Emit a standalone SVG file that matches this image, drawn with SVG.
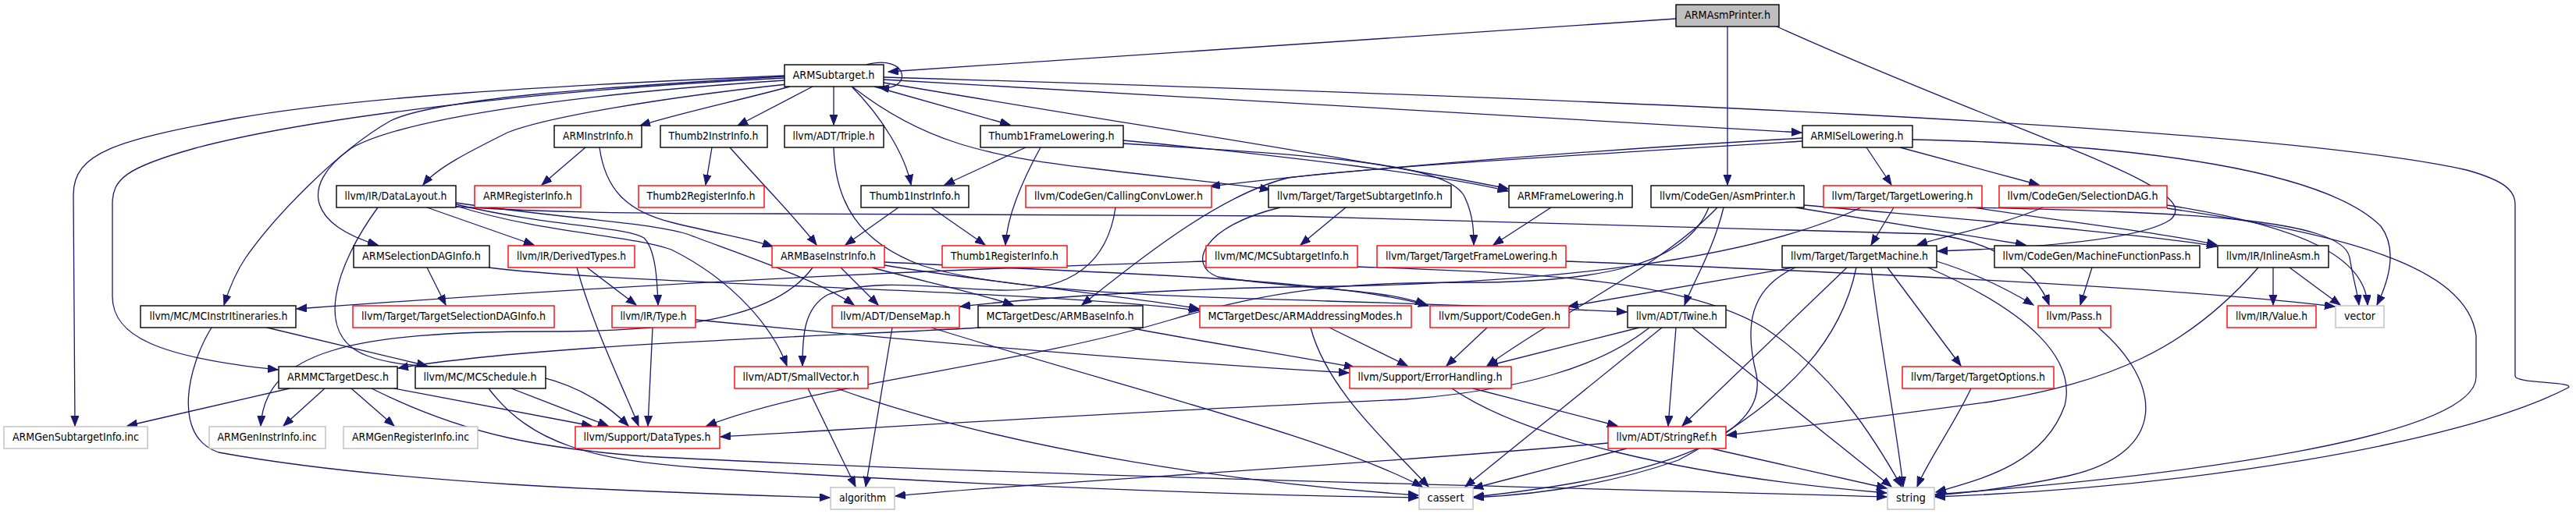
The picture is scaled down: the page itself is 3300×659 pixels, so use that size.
<svg xmlns="http://www.w3.org/2000/svg" width="3300" height="659" viewBox="0 0 3300 659">
<defs>
<style>
.nb{fill:#fff;stroke:#000;stroke-width:1.4}
.nr{fill:#fff;stroke:#ff0000;stroke-width:1.4}
.ng{fill:#fff;stroke:#bfbfbf;stroke-width:1.4}
.root{fill:#bfbfbf;stroke:#000;stroke-width:1.4}
text{font-family:"DejaVu Sans","Liberation Sans",sans-serif;font-size:14px;fill:#000;text-anchor:middle}
#edges path{fill:none;stroke:#191970;stroke-width:1.3;marker-end:url(#ah)}
</style>
<marker id="ah" markerWidth="14" markerHeight="11" refX="13" refY="5" orient="auto" markerUnits="userSpaceOnUse"><path d="M0,0 L13,5 L0,10 z" fill="#191970" stroke="#191970" stroke-width="1"/></marker>
</defs>
<rect width="3300" height="659" fill="#fff"/>
<g id="edges">
<path d="M2147,24 L1138,92"/>
<path d="M2213,34 L2213,237"/>
<path d="M2276,34 C2600,180 2830,240 2780,282 C2740,308 2600,318 2482,322"/>
<path d="M1110,83 C1165,68 1170,118 1126,112"/>
<path d="M1012,111 C950,128 870,145 820,161"/>
<path d="M1041,111 L945,161"/>
<path d="M1068,111 L1068,160"/>
<path d="M1091,111 C1130,150 1160,200 1167,237"/>
<path d="M1120,111 L1294,160"/>
<path d="M1093,112 C1180,180 1260,200 1400,216 C1500,228 1580,236 1627,243"/>
<path d="M1132,102 L2308,170"/>
<path d="M1132,99 C2000,125 2900,160 3160,218 C3210,232 3222,245 3222,262 L3222,482 C3222,492 3300,489 3290,497 C3150,570 2800,625 2479,637"/>
<path d="M1132,106 C1450,160 1750,205 1932,242"/>
<path d="M1005,97 C700,110 450,125 300,152 C150,180 94,195 94,250 L96,546"/>
<path d="M1005,100 C700,115 400,150 250,190 C160,215 144,230 144,262 L144,380 C144,430 200,458 356,474"/>
<path d="M1005,98 C800,110 560,125 500,155 C430,195 350,280 315,330 C300,352 292,375 287,391"/>
<path d="M1005,103 C750,120 520,150 450,190 C380,240 400,290 484,314"/>
<path d="M1008,108 C850,125 700,150 650,170 C600,195 560,215 542,237"/>
<path d="M750,189 L694,237"/>
<path d="M768,189 C775,240 800,270 860,285 C920,300 960,306 990,316"/>
<path d="M912,189 L904,237"/>
<path d="M935,189 C980,240 1020,280 1046,314"/>
<path d="M1068,189 C1070,260 1100,310 1180,340 C1300,380 1600,382 1700,386 C1900,392 2000,396 2084,400"/>
<path d="M1314,189 L1210,237"/>
<path d="M1333,189 C1305,240 1290,280 1288,314"/>
<path d="M1439,180 C1650,200 1850,225 1932,245"/>
<path d="M1439,184 C1700,200 1850,210 1875,250 C1888,275 1888,300 1888,314"/>
<path d="M2391,189 L2423,237"/>
<path d="M2434,189 L2612,237"/>
<path d="M2309,177 C2000,195 1700,220 1550,239"/>
<path d="M2309,181 C2000,200 1750,215 1650,228 C1560,250 1450,340 1386,391"/>
<path d="M2450,179 C2750,185 2980,220 3050,290 C3072,320 3060,360 3045,391"/>
<path d="M547,266 L684,314"/>
<path d="M484,266 C430,340 400,430 470,456 C560,490 700,440 805,546"/>
<path d="M584,262 C700,290 800,290 825,305 C840,320 842,360 843,391"/>
<path d="M584,260 C720,280 830,285 880,300 C960,330 1050,360 1094,391"/>
<path d="M584,264 C700,300 800,300 860,320 C940,360 990,420 1008,469"/>
<path d="M584,265 C700,272 800,274 1000,274 L1650,277 L2475,300 C2560,310 2610,350 2625,391"/>
<path d="M752,343 L815,391"/>
<path d="M739,343 C760,420 800,500 818,546"/>
<path d="M547,343 L571,391"/>
<path d="M626,343 C800,365 1300,370 1536,398"/>
<path d="M1041,343 C1000,400 900,425 700,425 C450,425 340,450 334,546"/>
<path d="M1077,343 L1125,391"/>
<path d="M1117,343 C1180,360 1250,375 1298,391"/>
<path d="M1133,340 C1250,360 1450,380 1536,396"/>
<path d="M1133,336 C1400,350 1700,355 1830,392"/>
<path d="M1151,266 L1083,314"/>
<path d="M1193,266 L1262,314"/>
<path d="M1429,266 C1420,330 1380,375 1280,372 C1200,370 1120,355 1060,378 C1030,395 1028,430 1028,469"/>
<path d="M1724,266 L1666,314"/>
<path d="M1640,266 C1540,290 1520,340 1560,355 C1650,370 1780,370 1826,391"/>
<path d="M1987,266 L1913,314"/>
<path d="M2208,266 C2195,320 2170,360 2158,391"/>
<path d="M2200,266 C2130,340 2000,400 1905,469"/>
<path d="M2189,266 C2160,340 2050,360 1900,362 C1750,362 1650,365 1500,410 C1300,470 1050,490 905,546"/>
<path d="M2300,266 L2595,314"/>
<path d="M2311,263 C2500,280 2750,300 2840,316"/>
<path d="M2426,266 L2397,314"/>
<path d="M2384,266 C2250,330 2000,365 1650,368 C1450,372 1300,385 1230,393"/>
<path d="M2528,266 C2650,285 2780,300 2840,314"/>
<path d="M2520,266 C2800,272 3000,280 3010,330 C3015,360 3020,375 3022,391"/>
<path d="M2617,266 C2560,290 2500,300 2456,314"/>
<path d="M2776,263 C2950,290 3030,330 3033,391"/>
<path d="M2776,267 C3000,300 3160,340 3172,430 L3172,483 C3172,560 2800,610 2479,634"/>
<path d="M2297,343 L2009,393"/>
<path d="M2366,343 L2155,546"/>
<path d="M2300,343 C2240,370 2235,420 2250,480 C2270,580 2050,620 1888,637"/>
<path d="M2378,343 C2360,430 2300,510 2150,590 C2050,625 1950,635 1888,638"/>
<path d="M2397,343 C2410,450 2430,550 2438,624"/>
<path d="M2418,343 L2512,469"/>
<path d="M2481,335 C2530,350 2570,370 2605,391"/>
<path d="M2470,343 C2600,400 2660,460 2645,520 C2620,590 2550,612 2480,631"/>
<path d="M2680,343 L2665,391"/>
<path d="M2912,343 L2912,391"/>
<path d="M2933,343 L2998,391"/>
<path d="M2893,343 C2800,450 2700,490 2550,515 C2400,535 2300,548 2212,558"/>
<path d="M2006,335 C2400,350 2800,370 2991,393"/>
<path d="M1545,335 C1200,345 800,365 380,396"/>
<path d="M1739,342 C1950,350 2150,355 2260,420 C2350,480 2400,560 2436,624"/>
<path d="M2100,420 L1906,469"/>
<path d="M2113,420 C2050,470 1950,500 1800,512 C1400,530 1100,550 923,560"/>
<path d="M2129,420 L1877,624"/>
<path d="M2147,420 L2137,546"/>
<path d="M2168,420 L2423,624"/>
<path d="M1887,498 L2072,546"/>
<path d="M1860,498 C1950,560 2150,610 2417,632"/>
<path d="M2060,568 C1700,600 1300,620 1147,636"/>
<path d="M2084,575 L1887,626"/>
<path d="M2192,575 L2417,626"/>
<path d="M2525,498 C2500,550 2470,590 2456,624"/>
<path d="M2688,420 C2770,490 2780,580 2650,610 C2580,625 2520,632 2479,635"/>
<path d="M1905,420 L1853,469"/>
<path d="M1703,420 L1803,469"/>
<path d="M1679,420 C1700,500 1780,570 1830,624"/>
<path d="M1256,420 C1100,430 700,440 510,472"/>
<path d="M1446,420 C1550,440 1650,455 1735,471"/>
<path d="M836,420 L830,546"/>
<path d="M891,410 C1200,440 1500,465 1728,478"/>
<path d="M1143,420 L1109,624"/>
<path d="M1193,420 C1450,500 1700,560 1822,624"/>
<path d="M1035,498 L1096,624"/>
<path d="M1072,498 C1300,580 1600,620 1817,635"/>
<path d="M342,420 L547,469"/>
<path d="M271,420 C240,470 220,560 280,580 C500,620 800,630 1063,638"/>
<path d="M655,498 L779,546"/>
<path d="M626,498 C680,570 760,590 900,600 C1300,625 1600,635 1817,638"/>
<path d="M371,498 L163,546"/>
<path d="M416,498 L363,546"/>
<path d="M450,498 L505,546"/>
<path d="M505,498 L758,546"/>
<path d="M476,498 C600,560 700,575 825,585 C1300,610 2000,625 2417,637"/>
</g>
<g id="n_ARMAsmPrinter"><rect class="root" x="2147" y="6" width="132" height="28"/><text x="2213" y="24" textLength="110" lengthAdjust="spacingAndGlyphs">ARMAsmPrinter.h</text></g>
<g id="n_ARMSubtarget"><rect class="nb" x="1005" y="83" width="127" height="28"/><text x="1068" y="101" textLength="105" lengthAdjust="spacingAndGlyphs">ARMSubtarget.h</text></g>
<g id="n_ARMInstrInfo"><rect class="nb" x="710" y="161" width="112" height="28"/><text x="766" y="179" textLength="90" lengthAdjust="spacingAndGlyphs">ARMInstrInfo.h</text></g>
<g id="n_Thumb2InstrInfo"><rect class="nb" x="846" y="161" width="137" height="28"/><text x="914" y="179" textLength="115" lengthAdjust="spacingAndGlyphs">Thumb2InstrInfo.h</text></g>
<g id="n_Triple"><rect class="nb" x="1005" y="161" width="127" height="28"/><text x="1068" y="179" textLength="105" lengthAdjust="spacingAndGlyphs">llvm/ADT/Triple.h</text></g>
<g id="n_Thumb1FrameLowering"><rect class="nb" x="1256" y="161" width="183" height="28"/><text x="1347" y="179" textLength="161" lengthAdjust="spacingAndGlyphs">Thumb1FrameLowering.h</text></g>
<g id="n_ARMISelLowering"><rect class="nb" x="2309" y="161" width="141" height="28"/><text x="2379" y="179" textLength="119" lengthAdjust="spacingAndGlyphs">ARMISelLowering.h</text></g>
<g id="n_DataLayout"><rect class="nb" x="431" y="238" width="153" height="28"/><text x="507" y="256" textLength="131" lengthAdjust="spacingAndGlyphs">llvm/IR/DataLayout.h</text></g>
<g id="n_ARMRegisterInfo"><rect class="nr" x="608" y="238" width="136" height="28"/><text x="676" y="256" textLength="114" lengthAdjust="spacingAndGlyphs">ARMRegisterInfo.h</text></g>
<g id="n_Thumb2RegisterInfo"><rect class="nr" x="818" y="238" width="161" height="28"/><text x="898" y="256" textLength="139" lengthAdjust="spacingAndGlyphs">Thumb2RegisterInfo.h</text></g>
<g id="n_Thumb1InstrInfo"><rect class="nb" x="1103" y="238" width="138" height="28"/><text x="1172" y="256" textLength="116" lengthAdjust="spacingAndGlyphs">Thumb1InstrInfo.h</text></g>
<g id="n_CallingConvLower"><rect class="nr" x="1314" y="238" width="238" height="28"/><text x="1433" y="256" textLength="216" lengthAdjust="spacingAndGlyphs">llvm/CodeGen/CallingConvLower.h</text></g>
<g id="n_TargetSubtargetInfo"><rect class="nb" x="1625" y="238" width="234" height="28"/><text x="1742" y="256" textLength="212" lengthAdjust="spacingAndGlyphs">llvm/Target/TargetSubtargetInfo.h</text></g>
<g id="n_ARMFrameLowering"><rect class="nb" x="1933" y="238" width="158" height="28"/><text x="2012" y="256" textLength="136" lengthAdjust="spacingAndGlyphs">ARMFrameLowering.h</text></g>
<g id="n_AsmPrinter"><rect class="nb" x="2115" y="238" width="196" height="28"/><text x="2213" y="256" textLength="174" lengthAdjust="spacingAndGlyphs">llvm/CodeGen/AsmPrinter.h</text></g>
<g id="n_TargetLowering"><rect class="nr" x="2336" y="238" width="203" height="28"/><text x="2437" y="256" textLength="181" lengthAdjust="spacingAndGlyphs">llvm/Target/TargetLowering.h</text></g>
<g id="n_SelectionDAG"><rect class="nr" x="2561" y="238" width="215" height="28"/><text x="2668" y="256" textLength="193" lengthAdjust="spacingAndGlyphs">llvm/CodeGen/SelectionDAG.h</text></g>
<g id="n_ARMSelectionDAGInfo"><rect class="nb" x="453" y="315" width="174" height="28"/><text x="540" y="333" textLength="152" lengthAdjust="spacingAndGlyphs">ARMSelectionDAGInfo.h</text></g>
<g id="n_DerivedTypes"><rect class="nr" x="651" y="315" width="162" height="28"/><text x="732" y="333" textLength="140" lengthAdjust="spacingAndGlyphs">llvm/IR/DerivedTypes.h</text></g>
<g id="n_ARMBaseInstrInfo"><rect class="nr" x="989" y="315" width="144" height="28"/><text x="1061" y="333" textLength="122" lengthAdjust="spacingAndGlyphs">ARMBaseInstrInfo.h</text></g>
<g id="n_Thumb1RegisterInfo"><rect class="nr" x="1207" y="315" width="160" height="28"/><text x="1287" y="333" textLength="138" lengthAdjust="spacingAndGlyphs">Thumb1RegisterInfo.h</text></g>
<g id="n_MCSubtargetInfo"><rect class="nr" x="1545" y="315" width="194" height="28"/><text x="1642" y="333" textLength="172" lengthAdjust="spacingAndGlyphs">llvm/MC/MCSubtargetInfo.h</text></g>
<g id="n_TargetFrameLowering"><rect class="nr" x="1764" y="315" width="242" height="28"/><text x="1885" y="333" textLength="220" lengthAdjust="spacingAndGlyphs">llvm/Target/TargetFrameLowering.h</text></g>
<g id="n_TargetMachine"><rect class="nb" x="2283" y="315" width="198" height="28"/><text x="2382" y="333" textLength="176" lengthAdjust="spacingAndGlyphs">llvm/Target/TargetMachine.h</text></g>
<g id="n_MachineFunctionPass"><rect class="nb" x="2555" y="315" width="263" height="28"/><text x="2686" y="333" textLength="241" lengthAdjust="spacingAndGlyphs">llvm/CodeGen/MachineFunctionPass.h</text></g>
<g id="n_InlineAsm"><rect class="nb" x="2841" y="315" width="142" height="28"/><text x="2912" y="333" textLength="120" lengthAdjust="spacingAndGlyphs">llvm/IR/InlineAsm.h</text></g>
<g id="n_MCInstrItineraries"><rect class="nb" x="180" y="392" width="199" height="28"/><text x="280" y="410" textLength="177" lengthAdjust="spacingAndGlyphs">llvm/MC/MCInstrItineraries.h</text></g>
<g id="n_TargetSelectionDAGInfo"><rect class="nr" x="452" y="392" width="258" height="28"/><text x="581" y="410" textLength="236" lengthAdjust="spacingAndGlyphs">llvm/Target/TargetSelectionDAGInfo.h</text></g>
<g id="n_Type"><rect class="nr" x="784" y="392" width="107" height="28"/><text x="837" y="410" textLength="85" lengthAdjust="spacingAndGlyphs">llvm/IR/Type.h</text></g>
<g id="n_DenseMap"><rect class="nr" x="1066" y="392" width="163" height="28"/><text x="1147" y="410" textLength="141" lengthAdjust="spacingAndGlyphs">llvm/ADT/DenseMap.h</text></g>
<g id="n_ARMBaseInfo"><rect class="nb" x="1253" y="392" width="211" height="28"/><text x="1358" y="410" textLength="189" lengthAdjust="spacingAndGlyphs">MCTargetDesc/ARMBaseInfo.h</text></g>
<g id="n_ARMAddressingModes"><rect class="nr" x="1537" y="392" width="271" height="28"/><text x="1672" y="410" textLength="249" lengthAdjust="spacingAndGlyphs">MCTargetDesc/ARMAddressingModes.h</text></g>
<g id="n_CodeGen"><rect class="nr" x="1832" y="392" width="178" height="28"/><text x="1921" y="410" textLength="156" lengthAdjust="spacingAndGlyphs">llvm/Support/CodeGen.h</text></g>
<g id="n_Twine"><rect class="nb" x="2085" y="392" width="126" height="28"/><text x="2148" y="410" textLength="104" lengthAdjust="spacingAndGlyphs">llvm/ADT/Twine.h</text></g>
<g id="n_Pass"><rect class="nr" x="2611" y="392" width="93" height="28"/><text x="2657" y="410" textLength="71" lengthAdjust="spacingAndGlyphs">llvm/Pass.h</text></g>
<g id="n_Value"><rect class="nr" x="2853" y="392" width="114" height="28"/><text x="2910" y="410" textLength="92" lengthAdjust="spacingAndGlyphs">llvm/IR/Value.h</text></g>
<g id="n_vector"><rect class="ng" x="2992" y="392" width="62" height="28"/><text x="3023" y="410" textLength="40" lengthAdjust="spacingAndGlyphs">vector</text></g>
<g id="n_ARMMCTargetDesc"><rect class="nb" x="357" y="470" width="152" height="28"/><text x="433" y="488" textLength="130" lengthAdjust="spacingAndGlyphs">ARMMCTargetDesc.h</text></g>
<g id="n_MCSchedule"><rect class="nb" x="532" y="470" width="167" height="28"/><text x="615" y="488" textLength="145" lengthAdjust="spacingAndGlyphs">llvm/MC/MCSchedule.h</text></g>
<g id="n_SmallVector"><rect class="nr" x="941" y="470" width="171" height="28"/><text x="1026" y="488" textLength="149" lengthAdjust="spacingAndGlyphs">llvm/ADT/SmallVector.h</text></g>
<g id="n_ErrorHandling"><rect class="nr" x="1729" y="470" width="207" height="28"/><text x="1832" y="488" textLength="185" lengthAdjust="spacingAndGlyphs">llvm/Support/ErrorHandling.h</text></g>
<g id="n_TargetOptions"><rect class="nr" x="2437" y="470" width="194" height="28"/><text x="2534" y="488" textLength="172" lengthAdjust="spacingAndGlyphs">llvm/Target/TargetOptions.h</text></g>
<g id="n_ARMGenSubtargetInfo"><rect class="ng" x="5" y="547" width="184" height="28"/><text x="97" y="565" textLength="162" lengthAdjust="spacingAndGlyphs">ARMGenSubtargetInfo.inc</text></g>
<g id="n_ARMGenInstrInfo"><rect class="ng" x="268" y="547" width="149" height="28"/><text x="342" y="565" textLength="127" lengthAdjust="spacingAndGlyphs">ARMGenInstrInfo.inc</text></g>
<g id="n_ARMGenRegisterInfo"><rect class="ng" x="440" y="547" width="172" height="28"/><text x="526" y="565" textLength="150" lengthAdjust="spacingAndGlyphs">ARMGenRegisterInfo.inc</text></g>
<g id="n_DataTypes"><rect class="nr" x="737" y="547" width="185" height="28"/><text x="829" y="565" textLength="163" lengthAdjust="spacingAndGlyphs">llvm/Support/DataTypes.h</text></g>
<g id="n_StringRef"><rect class="nr" x="2060" y="547" width="151" height="28"/><text x="2135" y="565" textLength="129" lengthAdjust="spacingAndGlyphs">llvm/ADT/StringRef.h</text></g>
<g id="n_algorithm"><rect class="ng" x="1064" y="625" width="82" height="28"/><text x="1105" y="643" textLength="60" lengthAdjust="spacingAndGlyphs">algorithm</text></g>
<g id="n_cassert"><rect class="ng" x="1818" y="625" width="69" height="28"/><text x="1852" y="643" textLength="47" lengthAdjust="spacingAndGlyphs">cassert</text></g>
<g id="n_string"><rect class="ng" x="2418" y="625" width="60" height="28"/><text x="2448" y="643" textLength="38" lengthAdjust="spacingAndGlyphs">string</text></g>
</svg>
